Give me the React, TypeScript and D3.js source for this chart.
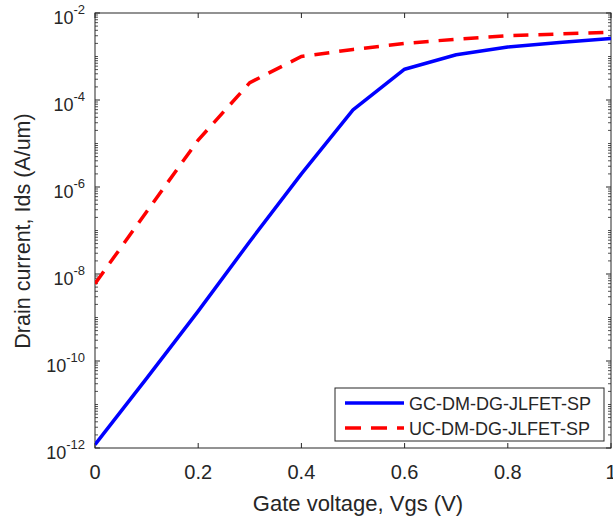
import React from "react";
import * as d3 from "d3";

// Gate voltage sweep (V)
const vgs = [0, 0.1, 0.2, 0.3, 0.4, 0.5, 0.6, 0.7, 0.8, 0.9, 1.0];
// Drain current (A/um) for the two devices
const idsGC = [1.2e-12, 4.0e-11, 1.4e-9, 5.6e-8, 2.0e-6, 5.9e-5, 5.1e-4, 1.1e-3, 1.65e-3, 2.1e-3, 2.6e-3];
const idsUC = [6.0e-9, 2.7e-7, 1.2e-5, 2.5e-4, 1.0e-3, 1.45e-3, 2.0e-3, 2.5e-3, 3.0e-3, 3.3e-3, 3.6e-3];

const xTicks = [0, 0.2, 0.4, 0.6, 0.8, 1];
const xTickLabels = ["0", "0.2", "0.4", "0.6", "0.8", "1"];
const yExponents = [-12, -10, -8, -6, -4, -2];

const seriesNames = ["GC-DM-DG-JLFET-SP", "UC-DM-DG-JLFET-SP"];

const W = 613;
const H = 518;
const left = 95;
const right = 611;
const top = 13;
const bottom = 448;
const axisColor = "#262626";
const font = "'Liberation Sans', Arial, Helvetica, sans-serif";

export default function App() {
  const x = d3.scaleLinear().domain([0, 1]).range([left, right]);
  const y = d3.scaleLog().domain([1e-12, 1e-2]).range([bottom, top]);

  const line = d3
    .line<[number, number]>()
    .x((d) => x(d[0]))
    .y((d) => y(d[1]));

  const gcPts = vgs.map((v, i) => [v, idsGC[i]] as [number, number]);
  const ucPts = vgs.map((v, i) => [v, idsUC[i]] as [number, number]);

  // minor log ticks: every 1..9 x 10^n that is not a labelled decade
  const minor: number[] = [];
  for (let e = -12; e < -2; e++) {
    for (let k = 1; k <= 9; k++) {
      const v = k * Math.pow(10, e);
      if (k === 1 && e % 2 === 0) continue;
      minor.push(v);
    }
  }

  const legX = 335;
  const legY = 388;
  const legW = 269;
  const legH = 53;

  return (
    <svg
      width={W}
      height={H}
      style={{ position: "fixed", left: 0, top: 0, background: "#fff" }}
      fontFamily={font}
    >
      <defs>
        <clipPath id="plot-area">
          <rect x={left} y={top} width={right - left} height={bottom - top} />
        </clipPath>
      </defs>
      <rect x={0} y={0} width={W} height={H} fill="#fff" />

      {/* axes box */}
      <rect
        x={left}
        y={top}
        width={right - left}
        height={bottom - top}
        fill="none"
        stroke={axisColor}
        strokeWidth={1}
      />

      {/* x ticks, bottom and top, pointing inward */}
      {xTicks.map((t) => (
        <g key={"xt" + t}>
          <line x1={x(t)} x2={x(t)} y1={bottom} y2={bottom - 5} stroke={axisColor} />
          <line x1={x(t)} x2={x(t)} y1={top} y2={top + 5} stroke={axisColor} />
        </g>
      ))}
      {xTicks.map((t, i) => (
        <text
          key={"xl" + t}
          x={x(t)}
          y={479}
          textAnchor="middle"
          fontSize={20}
          fill={axisColor}
        >
          {xTickLabels[i]}
        </text>
      ))}

      {/* y ticks */}
      {yExponents.map((e) => {
        const yy = y(Math.pow(10, e));
        return (
          <g key={"yt" + e}>
            <line x1={left} x2={left + 5} y1={yy} y2={yy} stroke={axisColor} />
            <line x1={right} x2={right - 5} y1={yy} y2={yy} stroke={axisColor} />
          </g>
        );
      })}
      {minor.map((v, i) => {
        const yy = y(v);
        return (
          <g key={"ym" + i}>
            <line x1={left} x2={left + 3} y1={yy} y2={yy} stroke={axisColor} strokeWidth={0.8} />
            <line x1={right} x2={right - 3} y1={yy} y2={yy} stroke={axisColor} strokeWidth={0.8} />
          </g>
        );
      })}
      {yExponents.map((e) => {
        const yy = y(Math.pow(10, e));
        return (
          <text
            key={"yl" + e}
            x={85}
            y={yy + 11}
            textAnchor="end"
            fontSize={18}
            fill={axisColor}
          >
            10
            <tspan fontSize={13} dy={-10}>
              {String(e)}
            </tspan>
          </text>
        );
      })}

      {/* axis titles */}
      <text
        x={358}
        y={511}
        textAnchor="middle"
        fontSize={22}
        fill={axisColor}
      >
        Gate voltage, Vgs (V)
      </text>
      <text
        transform={`translate(30, 231) rotate(-90)`}
        textAnchor="middle"
        fontSize={21.5}
        fill={axisColor}
      >
        Drain current, Ids (A/um)
      </text>

      {/* curves */}
      <g clipPath="url(#plot-area)">
        <path
          d={line(gcPts) ?? ""}
          fill="none"
          stroke="#0000ff"
          strokeWidth={3.5}
          strokeLinejoin="round"
        />
        <path
          d={line(ucPts) ?? ""}
          fill="none"
          stroke="#ff0000"
          strokeWidth={3.5}
          strokeDasharray="15 10"
        />
      </g>

      {/* legend */}
      <rect
        x={legX}
        y={legY}
        width={legW}
        height={legH}
        fill="#fff"
        stroke={axisColor}
        strokeWidth={1}
      />
      <line
        x1={legX + 10}
        x2={legX + 69}
        y1={legY + 15}
        y2={legY + 15}
        stroke="#0000ff"
        strokeWidth={3.5}
      />
      <line
        x1={legX + 10}
        x2={legX + 69}
        y1={legY + 40}
        y2={legY + 40}
        stroke="#ff0000"
        strokeWidth={3.5}
        strokeDasharray="16 10"
      />
      <text x={legX + 74} y={legY + 21.5} fontSize={18} fill={axisColor}>
        {seriesNames[0]}
      </text>
      <text x={legX + 74} y={legY + 46.5} fontSize={18} fill={axisColor}>
        {seriesNames[1]}
      </text>
    </svg>
  );
}
